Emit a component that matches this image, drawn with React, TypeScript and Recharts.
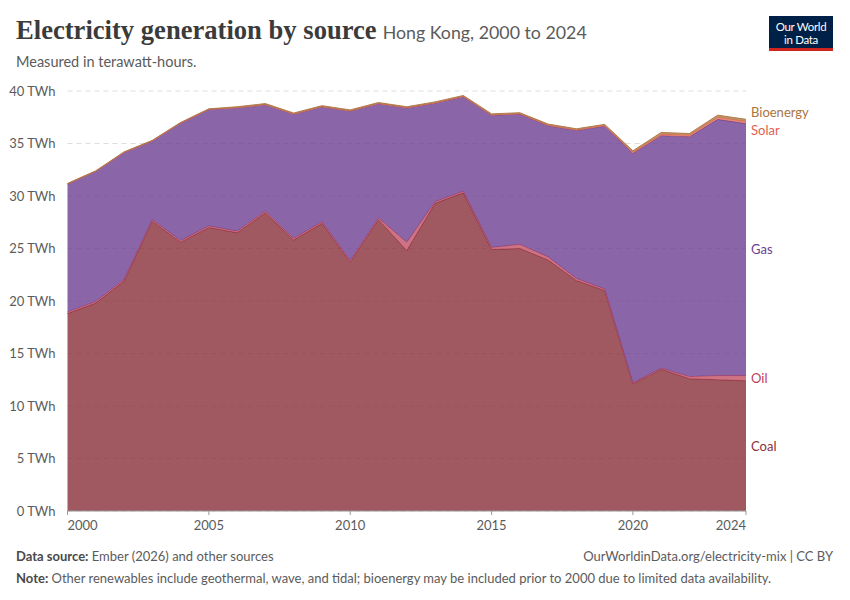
import React from "react";
import { AreaChart, Area, XAxis, YAxis, CartesianGrid } from "recharts";

const years = [2000,2001,2002,2003,2004,2005,2006,2007,2008,2009,2010,2011,2012,2013,2014,2015,2016,2017,2018,2019,2020,2021,2022,2023,2024];
const coal = [18.8,19.8,21.9,27.6,25.6,27.0,26.5,28.4,25.8,27.4,23.7,27.75,24.8,29.3,30.3,24.9,25.0,23.9,21.95,21.0,12.1,13.5,12.6,12.5,12.4];
const oil = [0.15,0.15,0.15,0.15,0.15,0.15,0.15,0.15,0.15,0.15,0.15,0.15,0.8,0.15,0.15,0.2,0.4,0.3,0.2,0.15,0.1,0.1,0.2,0.4,0.5];
const gas = [12.2,12.4,12.1,7.5,11.2,11.1,11.75,10.15,11.85,10.95,14.25,10.9,12.8,9.4,9.0,12.6,12.4,12.5,14.1,15.5,21.85,22.15,22.85,24.4,24.0];
const solar = [0,0,0,0,0,0,0,0,0,0,0,0,0,0.01,0.02,0.02,0.03,0.04,0.05,0.07,0.1,0.12,0.15,0.2,0.2];
const bioenergy = [0.05,0.05,0.05,0.05,0.05,0.05,0.1,0.1,0.1,0.1,0.1,0.1,0.1,0.1,0.1,0.1,0.1,0.11,0.1,0.1,0.15,0.18,0.15,0.2,0.2];
const yTicks = [0,5,10,15,20,25,30,35,40];
const xTicks = [2000,2005,2010,2015,2020,2024];

const data = years.map((y, i) => ({ year: y, coal: coal[i], oil: oil[i], gas: gas[i], solar: solar[i], bioenergy: bioenergy[i] }));

const series = [
  { key: "coal", color: "#883039" },
  { key: "oil", color: "#C15065" },
  { key: "gas", color: "#6D3E91" },
  { key: "solar", color: "#E56E5A" },
  { key: "bioenergy", color: "#B07A48" },
];

const labels = [
  { text: "Bioenergy", y: 113, color: "#A8743F" },
  { text: "Solar", y: 131, color: "#E0604F" },
  { text: "Gas", y: 250, color: "#6D3E91" },
  { text: "Oil", y: 379, color: "#C04060" },
  { text: "Coal", y: 447, color: "#883039" },
];

const XTick = (props: any) => {
  const { x, y, payload } = props;
  const v = payload.value;
  const anchor = v === 2000 ? "start" : v === 2024 ? "end" : "middle";
  return (
    <text x={x} y={y + 13} textAnchor={anchor} fill="#5b5b5b" fontSize={13} fontFamily="Lato">
      {v}
    </text>
  );
};

export default function App() {
  const font = "Lato, sans-serif";
  return (
    <div style={{ position: "absolute", left: 0, top: 0, width: 850, height: 600, background: "#fff", fontFamily: font }}>
      <div style={{ position: "absolute", left: 16, top: 15, whiteSpace: "nowrap" }}>
        <span style={{ fontFamily: "'Liberation Serif', serif", fontWeight: 700, fontSize: 26.6, color: "#3b3b3b" }}>
          Electricity generation by source
        </span>
        <span style={{ fontFamily: font, fontSize: 17.8, color: "#5b5b5b", marginLeft: 6 }}>Hong Kong, 2000 to 2024</span>
      </div>
      <div style={{ position: "absolute", left: 16, top: 53, fontSize: 14.5, color: "#5b5b5b" }}>Measured in terawatt-hours.</div>
      <div style={{ position: "absolute", left: 769, top: 16, width: 64, height: 35, background: "#002147", borderBottom: "3px solid #CE261E", boxSizing: "border-box", color: "#fff", fontSize: 11.5, lineHeight: "13px", textAlign: "center", paddingTop: 4, letterSpacing: -0.3 }}>
        Our World<br />in Data
      </div>

      <div style={{ position: "absolute", left: 0, top: 0 }}>
        <AreaChart width={850} height={540} data={data} margin={{ top: 91, right: 104, bottom: 0, left: 0 }}>
          <CartesianGrid horizontal={true} vertical={false} stroke="#dddddd" strokeDasharray="5 4" />
          <XAxis dataKey="year" type="number" domain={[2000, 2024]} ticks={xTicks} height={29} tick={<XTick />} tickLine={{ stroke: "#999" }} tickSize={4} axisLine={{ stroke: "#999" }} interval={0} />
          <YAxis type="number" domain={[0, 40]} ticks={yTicks} width={67.5} axisLine={false} tickLine={false} tick={{ fill: "#5b5b5b", fontSize: 13, fontFamily: "Lato" }} tickFormatter={(v: number) => `${v} TWh`} tickMargin={6} interval={0} />
          {series.map((s) => (
            <Area key={s.key} dataKey={s.key} stackId="1" type="linear" fill={s.color} fillOpacity={0.8} stroke={s.color} strokeWidth={1} isAnimationActive={false} dot={false} activeDot={false} />
          ))}
        </AreaChart>
      </div>

      {labels.map((l) => (
        <div key={l.text} style={{ position: "absolute", left: 751, top: l.y - 9, fontSize: 13, color: l.color }}>{l.text}</div>
      ))}

      <div style={{ position: "absolute", left: 16, top: 548, fontSize: 13, color: "#5b5b5b" }}>
        <b style={{ color: "#4a4a4a" }}>Data source:</b> Ember (2026) and other sources
      </div>
      <div style={{ position: "absolute", right: 17, top: 548, fontSize: 13, color: "#5b5b5b" }}>
        OurWorldinData.org/electricity-mix | CC BY
      </div>
      <div style={{ position: "absolute", left: 16, top: 570, fontSize: 13, color: "#5b5b5b" }}>
        <b style={{ color: "#4a4a4a" }}>Note:</b> Other renewables include geothermal, wave, and tidal; bioenergy may be included prior to 2000 due to limited data availability.
      </div>
    </div>
  );
}
